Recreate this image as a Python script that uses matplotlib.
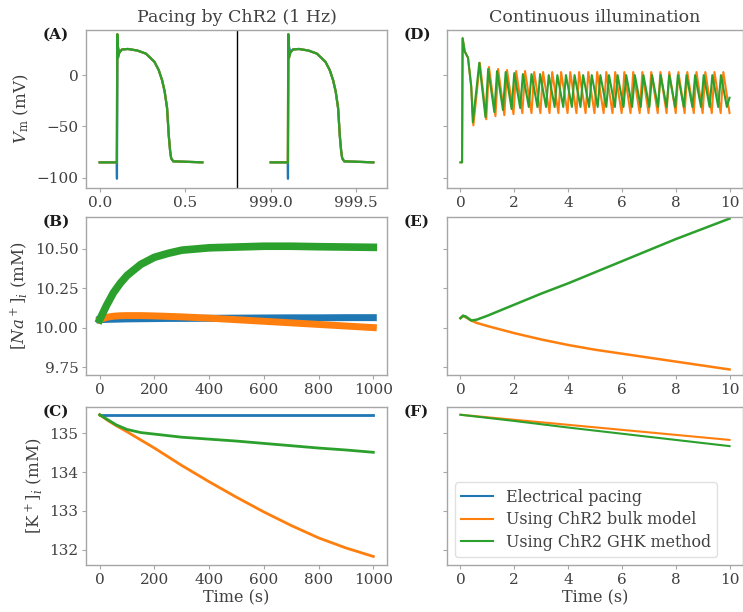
import numpy as np
import matplotlib
matplotlib.use('Agg')
from matplotlib import pyplot as plt

plt.rcParams['font.family'] = ['DejaVu Serif']
plt.rcParams['mathtext.fontset'] = 'dejavuserif'

C_BLUE, C_ORANGE, C_GREEN = '#1f77b4', '#ff7f0e', '#2ca02c'
labels = ['Electrical pacing', 'Using ChR2 bulk model', 'Using ChR2 GHK method']

# ---------------- (A) one beat, time relative to window start (s), Vm (mV)
ap_t = [0.0, 0.100, 0.103, 0.107, 0.115, 0.130, 0.165, 0.220, 0.270, 0.320,
        0.345, 0.365, 0.380, 0.394, 0.404, 0.412, 0.418, 0.430, 0.600]
ap_v = [-85, -85, 40, 17, 22, 25, 25.5, 24, 21, 13,
        5, -5, -16, -32, -59, -74, -81, -84, -85]
# electrical pacing: stimulus artefact dips before the upstroke
elec_t = [0.0, 0.100, 0.101, 0.104, 0.115, 0.130, 0.165, 0.220, 0.270, 0.320,
          0.345, 0.365, 0.380, 0.394, 0.404, 0.412, 0.418, 0.430, 0.600]
elec_v = [-85, -85, -101, 30, 22, 25, 25.5, 24, 21, 13,
          5, -5, -16, -32, -59, -74, -81, -84, -85]
win_start = [0.0, 999.0]   # real start time of each window
win_pos = [0.0, 1.0]       # where each window sits on the axis

# ---------------- (B) [Na+]i over 1000 s pacing
b_t = [0, 25, 50, 75, 100, 150, 200, 250, 300, 400, 500, 600, 700, 800, 900, 1000]
b_blue = [10.05, 10.052, 10.053, 10.054, 10.055, 10.056, 10.057, 10.058, 10.058,
          10.059, 10.06, 10.061, 10.062, 10.062, 10.063, 10.063]
b_orange = [10.05, 10.065, 10.072, 10.075, 10.076, 10.076, 10.074, 10.071, 10.068,
            10.06, 10.05, 10.04, 10.03, 10.02, 10.01, 10.0]
b_green = [10.05, 10.14, 10.22, 10.28, 10.33, 10.40, 10.445, 10.47, 10.49,
           10.505, 10.51, 10.515, 10.515, 10.512, 10.51, 10.508]

# ---------------- (C) [K+]i over 1000 s pacing
c_t = [0, 30, 60, 100, 150, 200, 300, 400, 500, 600, 700, 800, 900, 1000]
c_blue = [135.48] * len(c_t)
c_orange = [135.48, 135.33, 135.2, 135.04, 134.83, 134.62, 134.17, 133.75, 133.35,
            132.97, 132.62, 132.3, 132.04, 131.82]
c_green = [135.48, 135.35, 135.22, 135.1, 135.02, 134.98, 134.9, 134.85, 134.8,
           134.74, 134.68, 134.62, 134.57, 134.51]

# ---------------- (D) Vm under continuous illumination (peaks / troughs)
d_green_start_t = [0.00, 0.06, 0.08, 0.16, 0.28, 0.40, 0.46]
d_green_start_v = [-85, -85, 36, 23, 17, -11, -46]
d_green_pk_t = [0.70, 1.03, 1.36, 1.68, 2.00, 2.32, 2.64, 2.96, 3.28, 3.60,
                3.92, 4.24, 4.56, 4.88, 5.20, 5.52, 5.84, 6.16, 6.48, 6.80,
                7.12, 7.44, 7.76, 8.08, 8.40, 8.72, 9.04, 9.36, 9.68]
d_green_pk_v = [12, 6, 4, 3, 2, 1, 1, 1, 0, 0,
                0, 0, 0, 0, 0, 0, 0, 0, 0, 0,
                0, 0, 0, 0, 0, 0, 0, 0, 0]
d_green_tr_t = [0.93, 1.26, 1.58, 1.90, 2.22, 2.54, 2.86, 3.18, 3.50, 3.82,
                4.14, 4.46, 4.78, 5.10, 5.42, 5.74, 6.06, 6.38, 6.70, 7.02,
                7.34, 7.66, 7.98, 8.30, 8.62, 8.94, 9.26, 9.58, 9.90]
d_green_tr_v = [-41, -36, -34, -33, -32, -31, -31, -31, -31, -31,
                -31, -31, -31, -31, -31, -31, -31, -31, -31, -31,
                -31, -31, -31, -31, -31, -31, -31, -31, -31]
d_green_end = (10.0, -22)

d_orange_start_t = [0.00, 0.06, 0.08, 0.16, 0.28, 0.40, 0.48]
d_orange_start_v = [-85, -85, 36, 23, 17, -11, -49]
d_orange_pk_t = [0.72, 1.06, 1.40, 1.73, 2.07, 2.40, 2.74, 3.07, 3.41, 3.74,
                 4.08, 4.41, 4.75, 5.08, 5.42, 5.75, 6.09, 6.42, 6.76, 7.09,
                 7.43, 7.76, 8.10, 8.43, 8.77, 9.10, 9.44, 9.77]
d_orange_pk_v = [12, 8, 6, 5, 4, 4, 3, 3, 3, 3,
                 3, 3, 3, 3, 3, 3, 3, 3, 3, 3,
                 3, 3, 3, 3, 3, 3, 3, 3]
d_orange_tr_t = [0.96, 1.30, 1.63, 1.97, 2.30, 2.64, 2.97, 3.31, 3.64, 3.98,
                 4.31, 4.65, 4.98, 5.32, 5.65, 5.99, 6.32, 6.66, 6.99, 7.33,
                 7.66, 8.00, 8.33, 8.67, 9.00, 9.34, 9.67, 10.0]
d_orange_tr_v = [-43, -40, -39, -38, -37, -37, -37, -37, -37, -37,
                 -37, -37, -37, -37, -37, -37, -37, -37, -37, -37,
                 -37, -37, -37, -37, -37, -37, -37, -37]

# ---------------- (E) [Na+]i continuous illumination
e_t = [0, 0.1, 0.2, 0.4, 0.6, 1, 2, 3, 4, 5, 6, 7, 8, 9, 10]
e_orange = [10.06, 10.075, 10.065, 10.045, 10.03, 10.01, 9.965, 9.925, 9.89,
            9.86, 9.835, 9.81, 9.785, 9.76, 9.735]
e_green = [10.06, 10.075, 10.07, 10.045, 10.05, 10.075, 10.145, 10.215, 10.28,
           10.35, 10.42, 10.49, 10.56, 10.625, 10.69]

# ---------------- (F) [K+]i continuous illumination
f_t = [0, 2, 4, 6, 8, 10]
f_orange = [135.48, 135.35, 135.22, 135.09, 134.96, 134.83]
f_green = [135.48, 135.32, 135.15, 134.99, 134.83, 134.67]


def merge(start_t, start_v, pk_t, pk_v, tr_t, tr_v, end=None):
    t = list(pk_t) + list(tr_t)
    v = list(pk_v) + list(tr_v)
    order = np.argsort(t)
    t = list(start_t) + [t[i] for i in order]
    v = list(start_v) + [v[i] for i in order]
    if end is not None:
        t.append(end[0])
        v.append(end[1])
    return t, v


def style(ax):
    for s in ax.spines.values():
        s.set_color('0.65')
        s.set_linewidth(1.0)
    ax.tick_params(direction='out', length=3, width=0.8, color='0.65',
                   labelsize=11, labelcolor='0.25', pad=2.5)


def panel_label(ax, txt):
    ax.annotate(txt, xy=(0, 1), xycoords='axes fraction', xytext=(-31, 2),
                textcoords='offset points', ha='left', va='top',
                fontsize=11, fontweight='bold', color='0.1')


fig = plt.figure(figsize=(7.43, 6.12), dpi=100)
lx, rx = 86 / 743, 447 / 743
lw_, rw_ = 301 / 743, 296 / 743
hh = 158 / 612
rows = [1 - 188 / 612, 1 - 375 / 612, 1 - 565 / 612]

axA = fig.add_axes([lx, rows[0], lw_, hh])
axB = fig.add_axes([lx, rows[1], lw_, hh])
axC = fig.add_axes([lx, rows[2], lw_, hh])
axD = fig.add_axes([rx, rows[0], rw_, hh])
axE = fig.add_axes([rx, rows[1], rw_, hh])
axF = fig.add_axes([rx, rows[2], rw_, hh])

# (A)
for pos in win_pos:
    axA.plot(np.array(elec_t) + pos, elec_v, color=C_BLUE, lw=1.6)
    axA.plot(np.array(ap_t) + pos, ap_v, color=C_ORANGE, lw=1.6)
    axA.plot(np.array(ap_t) + pos, ap_v, color=C_GREEN, lw=1.6)
axA.axvline(0.8, color='k', lw=1.0)
axA.set_xlim(-0.08, 1.68)
axA.set_ylim(-110, 44)
ticks = []
tlabs = []
for st, pos in zip(win_start, win_pos):
    ticks += [pos, pos + 0.5]
    tlabs += ['%.1f' % st, '%.1f' % (st + 0.5)]
axA.set_xticks(ticks)
axA.set_xticklabels(tlabs)
axA.set_yticks([0, -50, -100])
axA.set_ylabel(r'$V_\mathrm{m}$ (mV)', fontsize=12, color='0.25')
axA.set_title('Pacing by ChR2 (1 Hz)', fontsize=12.5, color='0.25', pad=6)

# (B)
axB.plot(b_t, b_blue, color=C_BLUE, lw=5)
axB.plot(b_t, b_orange, color=C_ORANGE, lw=5)
axB.plot(b_t, b_green, color=C_GREEN, lw=5.5)
axB.set_xlim(-50, 1050)
axB.set_ylim(9.70, 10.70)
axB.set_yticks([9.75, 10.0, 10.25, 10.5])
axB.set_yticklabels(['9.75', '10.00', '10.25', '10.50'])
axB.set_xticks([0, 200, 400, 600, 800, 1000])
axB.set_ylabel(r'$[Na^+]_i$ (mM)', fontsize=12, color='0.25')

# (C)
axC.plot(c_t, c_blue, color=C_BLUE, lw=2)
axC.plot(c_t, c_orange, color=C_ORANGE, lw=2)
axC.plot(c_t, c_green, color=C_GREEN, lw=2)
axC.set_xlim(-50, 1050)
axC.set_ylim(131.6, 135.68)
axC.set_yticks([132, 133, 134, 135])
axC.set_xticks([0, 200, 400, 600, 800, 1000])
axC.set_ylabel(r'$[\mathrm{K}^+]_i$ (mM)', fontsize=12, color='0.25')
axC.set_xlabel('Time (s)', fontsize=11.5, color='0.25', labelpad=2)

# (D)
og_t, og_v = merge(d_orange_start_t, d_orange_start_v, d_orange_pk_t,
                   d_orange_pk_v, d_orange_tr_t, d_orange_tr_v)
gr_t, gr_v = merge(d_green_start_t, d_green_start_v, d_green_pk_t,
                   d_green_pk_v, d_green_tr_t, d_green_tr_v, d_green_end)
axD.plot(og_t, og_v, color=C_ORANGE, lw=1.5)
axD.plot(gr_t, gr_v, color=C_GREEN, lw=1.5)
axD.set_ylim(-110, 44)
axD.set_yticks([0, -50, -100])
axD.set_title('Continuous illumination', fontsize=12.5, color='0.25', pad=6)

# (E)
axE.plot(e_t, e_orange, color=C_ORANGE, lw=1.8)
axE.plot(e_t, e_green, color=C_GREEN, lw=1.8)
axE.set_ylim(9.70, 10.70)
axE.set_yticks([9.75, 10.0, 10.25, 10.5])

# (F)
axF.plot([], [], color=C_BLUE, lw=1.5, label=labels[0])
axF.plot(f_t, f_orange, color=C_ORANGE, lw=1.5, label=labels[1])
axF.plot(f_t, f_green, color=C_GREEN, lw=1.5, label=labels[2])
axF.set_ylim(131.6, 135.68)
axF.set_yticks([132, 133, 134, 135])
axF.set_xlabel('Time (s)', fontsize=11.5, color='0.25', labelpad=2)
leg = axF.legend(loc='lower left', fontsize=11.4, frameon=True, labelspacing=0.35)
leg.get_frame().set_edgecolor('0.85')
for t in leg.get_texts():
    t.set_color('0.25')

for ax in (axD, axE, axF):
    ax.set_xlim(-0.5, 10.5)
    ax.set_xticks([0, 2, 4, 6, 8, 10])
    ax.tick_params(labelleft=False)

for ax, lab in zip((axA, axB, axC, axD, axE, axF),
                   ('(A)', '(B)', '(C)', '(D)', '(E)', '(F)')):
    style(ax)
    panel_label(ax, lab)

fig.savefig('out.png', dpi=100)
